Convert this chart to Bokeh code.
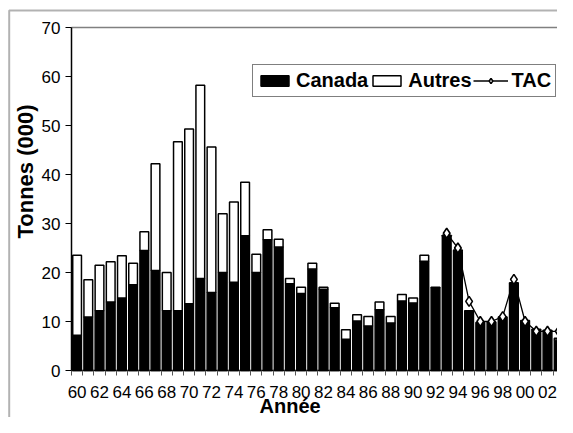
import math
from bokeh.plotting import figure
from bokeh.models import (ColumnDataSource, Range1d, FixedTicker, Legend, LegendItem,
                          Label, LinearAxis, BoxAnnotation)
from bokeh.embed import file_html
from bokeh.resources import INLINE

years = list(range(1960, 2004))
canada = [7.2, 10.9, 12.2, 14.0, 14.8, 17.5, 24.5, 20.4, 12.2, 12.2,
          13.6, 18.8, 15.9, 20.0, 18.0, 27.5, 20.0, 26.7, 25.2, 17.7,
          15.7, 20.7, 16.6, 12.8, 6.4, 10.1, 9.1, 12.4, 9.7, 14.2,
          13.8, 22.3, 16.9, 27.4, 24.3, 12.2, 9.8, 9.9, 10.9, 17.7,
          10.1, 8.3, 8.1, 6.2]
autres = [16.3, 7.6, 9.3, 8.2, 8.6, 4.4, 3.8, 21.8, 7.8, 34.5,
          35.7, 39.4, 29.7, 12.0, 16.4, 10.9, 3.7, 2.0, 1.6, 1.1,
          1.3, 1.2, 0.4, 0.9, 1.9, 1.3, 1.9, 1.6, 1.3, 1.3,
          1.0, 1.2, 0.1, 0.2, 0.3, 0.0, 0.0, 0.0, 0.0, 0.2,
          0.1, 0.1, 0.1, 0.4]
tac_years = list(range(1993, 2004))
tac = [28.0, 25.0, 14.1, 10.0, 10.0, 11.0, 18.6, 10.0, 8.0, 8.0, 8.0]
label_years = list(range(1960, 2003, 2))
tick_labels = ["60", "62", "64", "66", "68", "70", "72", "74", "76", "78", "80",
               "82", "84", "86", "88", "90", "92", "94", "96", "98", "00", "02"]
y_ticks = [0, 10, 20, 30, 40, 50, 60, 70]

FONT = "Liberation Sans"
WIDTH, HEIGHT = 557, 417
# layout of the plot area inside the canvas (pixels)
PA_LEFT, PA_TOP, PA_BOTTOM = 71, 27, 370
CAT_W = 11.2                      # pixels per year
Y_K = (PA_BOTTOM - PA_TOP) / 70   # pixels per thousand tonnes


def xd(px):
    return 1959.5 + (px - PA_LEFT) / CAT_W


def yd(py):
    return (PA_BOTTOM - py) / Y_K


src = ColumnDataSource(dict(year=years, canada=canada, autres=autres))
tac_src = ColumnDataSource(dict(year=tac_years, tac=tac))

p = figure(width=WIDTH, height=HEIGHT, output_backend="svg", toolbar_location=None,
           x_range=Range1d(xd(0), xd(WIDTH)), y_range=Range1d(yd(HEIGHT), yd(0)),
           min_border=0, min_border_left=0, min_border_right=0,
           min_border_top=0, min_border_bottom=0)
p.outline_line_color = None
p.xgrid.visible = False
p.ygrid.visible = False
p.background_fill_color = "white"
p.border_fill_color = "white"

# outer chart-area frame (left and top edges; the rest lies outside the crop)
p.add_layout(BoxAnnotation(left=xd(8.7), top=yd(10), right=xd(900), bottom=yd(900),
                           fill_alpha=0, line_color="black", line_width=2))

rs = p.vbar_stack(["canada", "autres"], x="year", width=0.78, source=src,
                  fill_color=["black", "white"], line_color="black", line_width=1.5)

ln = p.line("year", "tac", source=tac_src, line_color="black", line_width=1.3)
sc = p.scatter("year", "tac", source=tac_src, marker="diamond", size=10,
               fill_color="white", line_color="black", line_width=1.6)

# x axis drawn at y = 0
xa = p.xaxis[0]
xa.fixed_location = 0
xa.bounds = (1959.5, xd(WIDTH))
xa.ticker = FixedTicker(ticks=label_years,
                        minor_ticks=[y + 0.5 for y in range(1959, 2004)])
xa.major_label_overrides = {y: t for y, t in zip(label_years, tick_labels)}
xa.major_tick_out = 0
xa.major_tick_in = 0
xa.minor_tick_out = 5
xa.minor_tick_in = 0
xa.minor_tick_line_color = "#555555"
xa.axis_line_color = "black"
xa.axis_line_width = 1.5
xa.major_label_standoff = 10
xa.major_label_text_font = FONT
xa.major_label_text_font_size = "17px"
xa.major_label_text_color = "black"

# y axis drawn at the left edge of the plot area
ya = p.yaxis[0]
ya.fixed_location = 1959.5
ya.bounds = (0, 70)
ya.ticker = FixedTicker(ticks=y_ticks)
ya.major_tick_out = 6
ya.major_tick_in = 0
ya.minor_tick_out = 0
ya.minor_tick_in = 0
ya.major_tick_line_color = "black"
ya.axis_line_color = "black"
ya.axis_line_width = 1.5
ya.major_label_standoff = 5
ya.major_label_text_font = FONT
ya.major_label_text_font_size = "17px"
ya.major_label_text_color = "black"

# grey top border of the plot area
top_axis = LinearAxis(fixed_location=70, bounds=(1959.5, xd(WIDTH)),
                      ticker=FixedTicker(ticks=[]), axis_line_color="#808080",
                      axis_line_width=1.5, major_tick_line_color=None,
                      minor_tick_line_color=None, major_label_text_font_size="0px")
p.add_layout(top_axis, "above")

# axis titles
p.add_layout(Label(x=xd(24.5), y=yd(171), text="Tonnes (000)", angle=math.pi / 2,
                   text_align="center", text_baseline="middle",
                   text_font=FONT, text_font_style="bold", text_font_size="22px",
                   text_color="black"))
p.add_layout(Label(x=xd(259), y=yd(416.5), text="Année",
                   text_align="left", text_baseline="bottom",
                   text_font=FONT, text_font_style="bold", text_font_size="20px",
                   text_color="black"))

legend = Legend(items=[
    LegendItem(label="Canada", renderers=[rs[0]]),
    LegendItem(label="Autres", renderers=[rs[1]]),
    LegendItem(label="TAC", renderers=[ln, sc]),
], location=(252, HEIGHT - 97), orientation="horizontal")
legend.label_text_font = FONT
legend.label_text_font_style = "bold"
legend.label_text_font_size = "20px"
legend.label_text_color = "black"
legend.glyph_width = 35
legend.glyph_height = 13
legend.label_standoff = 4
legend.spacing = 1
legend.padding = 4
legend.margin = 0
legend.border_line_color = "black"
legend.border_line_width = 1
legend.background_fill_color = "white"
legend.background_fill_alpha = 1
p.add_layout(legend)

open("out.html", "w").write(file_html(p, INLINE))
